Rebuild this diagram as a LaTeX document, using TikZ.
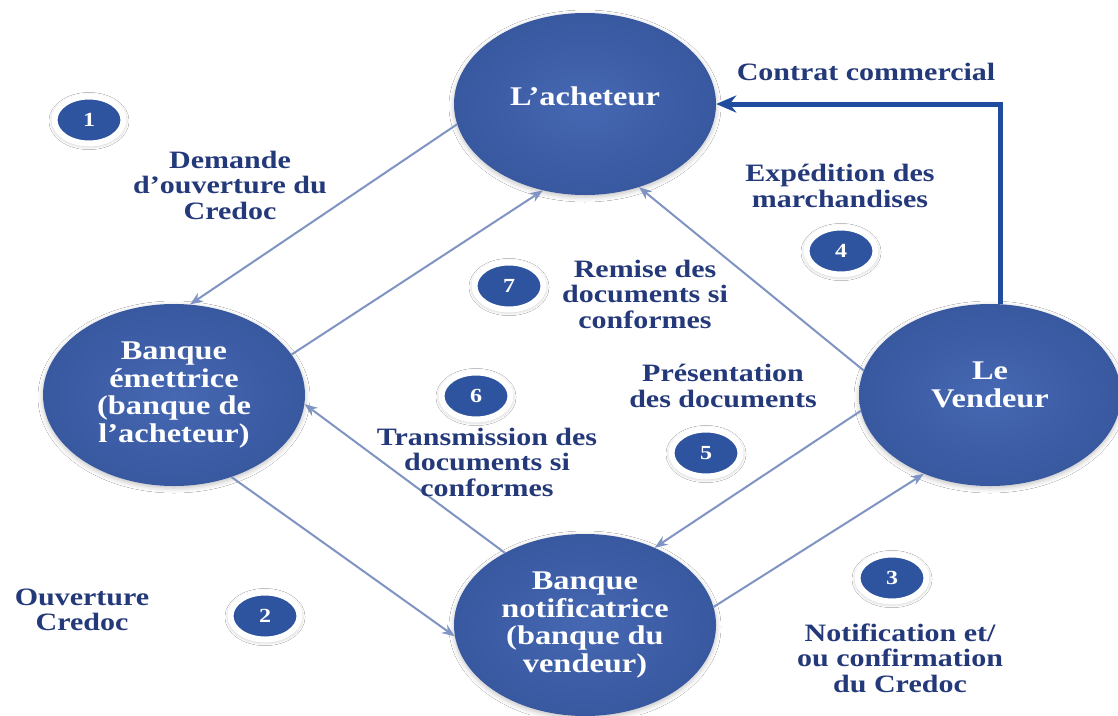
\documentclass[tikz,border=0pt]{standalone}
\usepackage{fontspec}
\newfontfamily\dfont{Liberation Serif}[FakeStretch=1.2]
\usetikzlibrary{shapes.geometric,arrows.meta,shadows.blur}
\definecolor{actorin}{HTML}{4668B2}
\definecolor{actorout}{HTML}{3858A0}
\definecolor{numblue}{HTML}{2F549F}
\definecolor{navy}{HTML}{24397A}
\definecolor{flowc}{HTML}{7F94C2}
\definecolor{contc}{HTML}{1F4C9E}
\begin{document}
\begin{tikzpicture}[x=1pt,y=-1pt,
  actor/.style={ellipse, minimum width=262pt, minimum height=182pt, inner sep=0pt,
    inner color=actorin, outer color=actorout,
    blur shadow={shadow xshift=0pt, shadow yshift=-2pt, shadow opacity=25, shadow blur radius=5pt}},
  actortxt/.style={text=white, align=center, font=\dfont\bfseries\fontsize{27}{27.5}\selectfont},
  lbl/.style={text=navy, align=center, font=\dfont\bfseries\fontsize{25}{25.5}\selectfont},
  num/.style={ellipse, minimum width=69pt, minimum height=47pt, inner sep=0pt,
    fill=numblue, draw=white, line width=6pt, text=white,
    font=\dfont\bfseries\fontsize{20}{20}\selectfont,
    blur shadow={shadow xshift=0pt, shadow yshift=-1pt, shadow opacity=35, shadow blur radius=4pt, shadow scale=1.04}},
  flow/.style={draw=flowc, line width=2pt, -{Stealth[length=13pt,width=10pt]}},
  contrat/.style={draw=contc, line width=5pt, -{Stealth[length=20pt,width=17pt]}}
]
\useasboundingbox (0,0) rectangle (1118,715);
\fill[white] (0,0) rectangle (1118,715);

% the four parties
\node[actor] (A) at (585,104) {};
\node[actor] (E) at (174,395) {};
\node[actor] (V) at (990,395) {};
\node[actor] (N) at (585,625) {};

\node[actortxt] (tA) at ([yshift=8pt]A.center) {L’acheteur};
\node[actortxt] (tE) at (E.center) {Banque\\émettrice\\(banque de\\l’acheteur)};
\node[actortxt] (tV) at ([yshift=10pt]V.center) {Le\\Vendeur};
\node[actortxt] (tN) at (N.center) {Banque\\notificatrice\\(banque du\\vendeur)};

% flows between the parties
\draw[flow] (A.189) -- (E.80);
\draw[flow] (E.19) -- (A.244);
\draw[flow] (V.169) -- (A.-57);
\draw[flow] (V.187) -- (N.48);
\draw[flow] (N.8) -- (V.230);
\draw[flow] (N.138) -- (E.-4);
\draw[flow] (E.-55) -- (N.185);

% commercial contract
\draw[contrat] ([xshift=10pt]V.north) |- (A.east);

% step numbers
\node[num] (n1) at (89,120) {1};
\node[num] (n2) at (265,616) {2};
\node[num] (n3) at (892,578) {3};
\node[num] (n4) at (841,251) {4};
\node[num] (n5) at (706,453) {5};
\node[num] (n6) at (476,396) {6};
\node[num] (n7) at (509,286) {7};

% step descriptions
\node[lbl] (l1) at (230,185) {Demande\\d’ouverture du\\Credoc};
\node[lbl] (lc) at (866,72) {Contrat commercial};
\node[lbl] (l4) at (840,186) {Expédition des\\marchandises};
\node[lbl] (l7) at (645,294) {Remise des\\documents si\\conformes};
\node[lbl] (l5) at (723,386) {Présentation\\des documents};
\node[lbl] (l6) at (487,462) {Transmission des\\documents si\\conformes};
\node[lbl] (l2) at (82,610) {Ouverture\\Credoc};
\node[lbl] (l3) at (900,658) {Notification et/\\ou confirmation\\du Credoc};
\end{tikzpicture}
\end{document}
